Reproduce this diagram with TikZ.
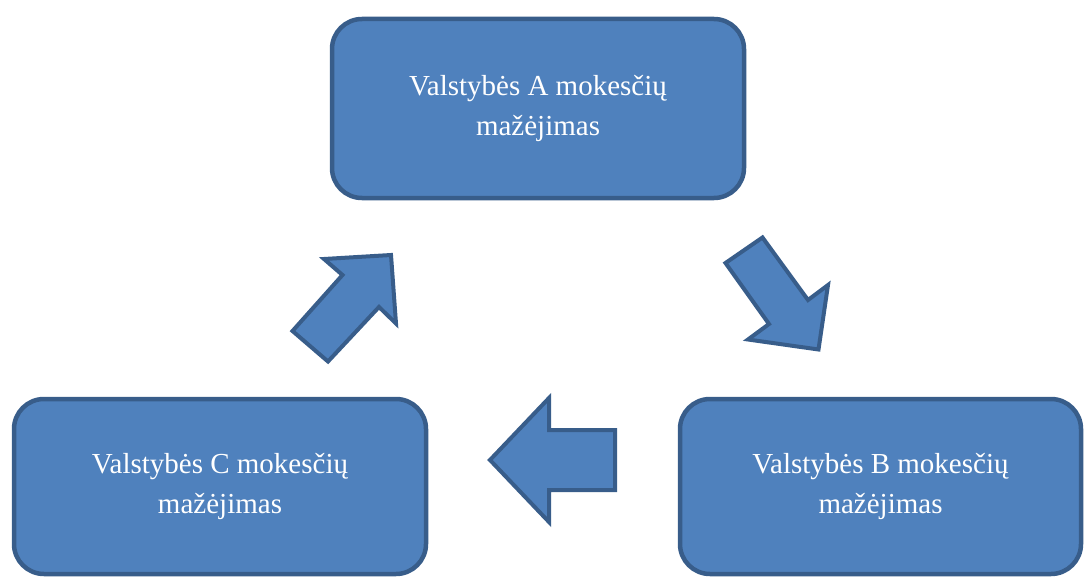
\documentclass[tikz,border=0pt]{standalone}
\usepackage{fontspec}
\setmainfont{Liberation Serif}
\definecolor{boxfill}{HTML}{4F81BD}
\definecolor{boxline}{HTML}{385D8A}
\begin{document}
\begin{tikzpicture}[x=1pt,y=-1pt,
  statebox/.style={draw=boxline, fill=boxfill, line width=4.5pt,
    rounded corners=30pt, minimum width=412pt, minimum height=179pt,
    align=center, text=white, font=\fontsize{29}{40}\selectfont, inner sep=0pt},
  blockarrow/.style={draw=boxline, fill=boxfill, line width=4pt, line join=miter}]
\useasboundingbox (0,0) rectangle (1085,578);

% the three states
\node[statebox] (a) at (538,108.5) {Valstybės A mokesčių\\mažėjimas};
\node[statebox, minimum height=175pt] (c) at (220,486.5) {Valstybės C mokesčių\\mažėjimas};
\node[statebox, minimum width=401pt, minimum height=175pt] (b) at (880.5,486.5) {Valstybės B mokesčių\\mažėjimas};

% A -> B
\draw[blockarrow] (725.5,263) -- (762.5,237.5) -- (808,300) -- (828,285)
  -- (818.5,349.5) -- (748,339.5) -- (769,324) -- cycle;
% B -> C
\draw[blockarrow] (490,460) -- (549,398) -- (549,430) -- (615,430)
  -- (615,490) -- (549,490) -- (549,522) -- cycle;
% C -> A
\draw[blockarrow] (292.5,331) -- (328,361.5) -- (379,307) -- (396,323.5)
  -- (391,255) -- (324,259) -- (342.5,275) -- cycle;
\end{tikzpicture}
\end{document}
